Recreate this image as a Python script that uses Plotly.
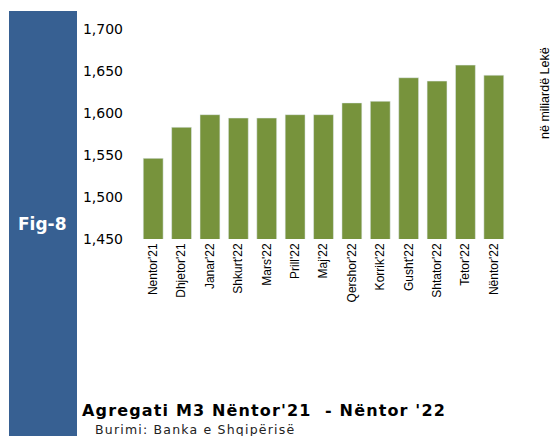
import plotly.graph_objects as go

months = ["Nentor'21", "Dhjetor'21", "Janar'22", "Shkurt'22", "Mars'22", "Prill'22", "Maj'22",
          "Qershor'22", "Korrik'22", "Gusht'22", "Shtator'22", "Tetor'22", "Nëntor'22"]
m3_values = [1546, 1583, 1598, 1594, 1594, 1598, 1598, 1612, 1614, 1642, 1638, 1657, 1645]
y_ticks = [1450, 1500, 1550, 1600, 1650, 1700]

W, H = 552, 436
L, R, T, B = 139, 44, 29, 197
pw, ph = W - L - R, H - T - B

def px(x):
    return (x - L) / pw

def py(y):
    return 1 - (y - T) / ph

fig = go.Figure(go.Bar(x=months, y=m3_values, marker_color="#77933C", width=0.7))

fig.update_layout(
    width=W, height=H,
    margin=dict(l=L, r=R, t=T, b=B),
    paper_bgcolor="white", plot_bgcolor="white",
    showlegend=False,
    font=dict(family="Liberation Sans", color="#000"),
    xaxis=dict(tickangle=-90, showgrid=False, showline=False, zeroline=False,
               tickfont=dict(size=12, family="Liberation Sans"),
               ticks="", ticklabelstandoff=1),
    yaxis=dict(range=[1450, 1700], tickvals=y_ticks, tickformat=",d", showgrid=False,
               showline=False, zeroline=False, ticks="",
               tickfont=dict(size=14, family="DejaVu Sans"), ticklabelstandoff=15),
    shapes=[dict(type="rect", xref="paper", yref="paper",
                 x0=px(9), x1=px(77), y0=py(11), y1=py(440),
                 fillcolor="#376092", line=dict(width=0), layer="above")],
    annotations=[
        dict(text="<b>Fig-8</b>", xref="paper", yref="paper", x=px(42), y=py(224),
             showarrow=False, font=dict(size=17, color="white", family="DejaVu Sans"),
             xanchor="center", yanchor="middle"),
        dict(text="në miliardë Lekë", xref="paper", yref="paper", x=px(545), y=py(93),
             showarrow=False, textangle=-90,
             font=dict(size=12.5, color="#000", family="Liberation Sans"),
             xanchor="center", yanchor="middle"),
        dict(text="<b><span style='letter-spacing:1.15px'>Agregati M3 Nëntor'21  - Nëntor '22</span></b>",
             xref="paper", yref="paper",
             x=px(80), y=py(410), showarrow=False, xanchor="left", yanchor="middle",
             font=dict(size=16, color="#000", family="DejaVu Sans")),
        dict(text="<span style='letter-spacing:1.2px'>Burimi: Banka e Shqipërisë</span>",
             xref="paper", yref="paper",
             x=px(93), y=py(429), showarrow=False, xanchor="left", yanchor="middle",
             font=dict(size=12.5, color="#222", family="DejaVu Sans")),
    ],
)

fig.write_html("out.html", post_script="document.body.style.margin='0';",
               config={"displayModeBar": False})
